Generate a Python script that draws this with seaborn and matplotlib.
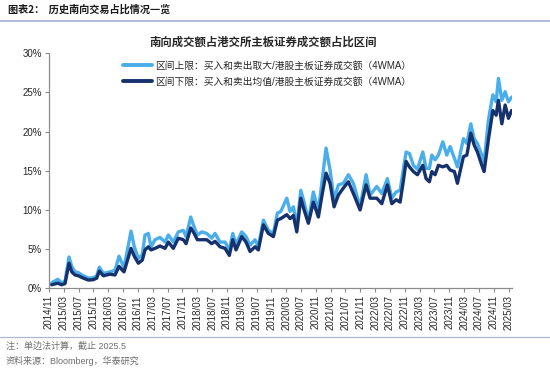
import numpy as np
import pandas as pd
import matplotlib
matplotlib.use("Agg")
import matplotlib.pyplot as plt
from matplotlib.lines import Line2D
import seaborn as sns

# ---------------- data ----------------
tick_labels = ["2014/11", "2015/03", "2015/07", "2015/11", "2016/03", "2016/07",
               "2016/11", "2017/03", "2017/07", "2017/11", "2018/03", "2018/07",
               "2018/11", "2019/03", "2019/07", "2019/11", "2020/03", "2020/07",
               "2020/11", "2021/03", "2021/07", "2021/11", "2022/03", "2022/07",
               "2022/11", "2023/03", "2023/07", "2023/11", "2024/03", "2024/07",
               "2024/11", "2025/03"]

# position along the axis in months after 2014/11
month_pos = [0.73, 2.35, 3.43, 4.32, 5.40, 6.13, 7.02, 7.91, 9.26, 10.61,
             11.96, 12.87, 13.58, 14.66, 16.46, 17.81, 18.89, 19.62, 20.24, 22.13,
             23.02, 24.10, 25.18, 25.91, 26.80, 27.53, 28.61, 29.96, 31.31, 32.20,
             33.55, 34.90, 36.25, 36.98, 38.25, 38.95, 40.03, 41.21, 42.56, 43.91,
             44.80, 46.15, 47.50, 48.66, 49.58, 50.47, 52.01, 53.17, 54.25, 55.60,
             56.49, 57.84, 59.19, 60.54, 61.62, 62.54, 64.16, 65.05, 65.94, 66.86,
             67.94, 68.83, 69.99, 71.34, 72.69, 73.60, 74.76, 75.84, 76.92, 78.08,
             79.43, 80.78, 82.13, 83.94, 85.56, 86.64, 88.45, 89.80, 91.31, 92.50,
             93.66, 94.74, 95.55, 96.36, 97.25, 98.33, 99.41, 100.86, 101.75, 102.64,
             103.29, 104.18, 105.07, 106.26, 107.34, 108.23, 109.39, 110.20, 111.82, 112.74,
             113.82, 114.71, 115.60, 116.79, 117.41, 118.57, 119.76, 120.65, 121.27, 122.19,
             123.08, 123.97, 124.83]

upper = [0.7, 1.15, 0.7, 0.9, 4.0, 2.8, 2.1, 2.0, 1.6, 1.3,
         1.35, 1.6, 2.7, 1.9, 2.1, 2.3, 4.1, 3.3, 2.6, 7.3,
         5.3, 3.8, 4.3, 6.8, 7.0, 5.3, 6.2, 6.5, 5.9, 6.8,
         5.9, 7.2, 7.4, 6.6, 9.1, 8.1, 6.8, 7.2, 7.0, 6.4,
         7.0, 5.9, 5.9, 4.9, 7.0, 5.6, 7.2, 6.6, 5.5, 6.2,
         5.3, 8.7, 7.4, 7.0, 9.6, 9.8, 11.5, 9.8, 10.4, 7.9,
         12.5, 11.0, 8.6, 12.3, 9.9, 13.4, 17.9, 15.1, 11.3, 13.2,
         13.4, 14.5, 13.4, 10.4, 14.5, 11.9, 13.0, 12.1, 14.0, 11.5,
         12.3, 12.5, 15.0, 17.4, 17.2, 15.7, 15.2, 17.4, 15.3, 15.3,
         17.0, 16.4, 17.0, 18.7, 17.0, 18.1, 16.6, 15.5, 19.1, 18.5,
         21.0, 19.1, 18.5, 17.0, 16.1, 21.5, 24.7, 23.8, 26.8, 24.0,
         25.1, 23.8, 24.4]

lower = [0.45, 0.65, 0.45, 0.6, 3.2, 2.1, 1.7, 1.6, 1.3, 1.05,
         1.1, 1.3, 2.2, 1.6, 1.8, 1.7, 2.8, 2.4, 2.1, 5.1,
         4.1, 3.2, 3.6, 4.9, 5.3, 4.9, 5.1, 5.4, 5.1, 5.9,
         5.1, 6.4, 6.2, 5.7, 7.7, 7.2, 6.2, 6.2, 6.2, 5.7,
         6.0, 5.3, 5.1, 4.2, 6.2, 4.9, 6.6, 5.9, 4.7, 5.3,
         4.9, 8.1, 7.0, 6.6, 8.7, 8.9, 9.4, 8.9, 9.3, 7.2,
         11.5, 10.0, 8.3, 11.0, 9.1, 11.7, 14.7, 13.4, 10.4, 11.9,
         12.8, 13.6, 12.1, 10.0, 13.2, 11.5, 11.5, 10.8, 13.2, 10.8,
         11.3, 11.0, 13.5, 16.2, 15.5, 14.9, 14.5, 15.7, 14.0, 13.6,
         14.9, 14.5, 15.7, 15.5, 15.7, 15.1, 14.9, 13.4, 16.8, 17.0,
         19.8, 18.3, 17.4, 15.7, 14.9, 19.0, 22.7, 22.1, 24.0, 21.0,
         23.4, 21.7, 22.7]

series_names = ["区间上限：买入和卖出取大/港股主板证券成交额（4WMA）",
                "区间下限：买入和卖出均值/港股主板证券成交额（4WMA）"]

# ---------------- styling ----------------
sns.set_theme(style="white")
plt.rcParams['font.family'] = ['Liberation Sans', 'Noto Sans CJK SC', 'DejaVu Sans']
plt.rcParams['axes.unicode_minus'] = False

light_blue = "#4AAEEB"
navy = "#16326E"
axis_gray = "#8C8C8C"
text_dark = "#262626"

long_df = pd.concat([
    pd.DataFrame({"pos": month_pos, "val": upper, "series": series_names[0]}),
    pd.DataFrame({"pos": month_pos, "val": lower, "series": series_names[1]}),
], ignore_index=True)

fig = plt.figure(figsize=(5.5, 3.7), dpi=100)
ax = fig.add_axes([49 / 550, 1 - 288.3 / 370, (511.7 - 49) / 550, (288.3 - 53.3) / 370])

sns.lineplot(data=long_df, x="pos", y="val", hue="series",
             palette=[light_blue, navy], linewidth=2.4, sort=False,
             legend=False, ax=ax)

ax.set_xlim(0, 124.85)
ax.set_ylim(0, 30)
ax.set_xlabel("")
ax.set_ylabel("")

ax.set_yticks(np.arange(0, 31, 5))
ax.set_yticklabels([f"{v}%" for v in range(0, 31, 5)], fontsize=7, color=text_dark)
ax.set_xticks(np.arange(0, 4 * len(tick_labels), 4))
ax.set_xticklabels(tick_labels, rotation=90, fontsize=7, color=text_dark)

for s in ["top", "right"]:
    ax.spines[s].set_visible(False)
for s in ["left", "bottom"]:
    ax.spines[s].set_color(axis_gray)
    ax.spines[s].set_linewidth(0.9)
ax.tick_params(axis="both", which="major", direction="out", length=3,
               width=0.8, color=axis_gray, pad=2, left=True, bottom=True)
ax.grid(False)

# legend
handles = [Line2D([0], [0], color=light_blue, lw=2.8),
           Line2D([0], [0], color=navy, lw=2.8)]
fig.legend(handles, series_names, loc="upper left",
           bbox_to_anchor=(123 / 550, 1 - 60.5 / 370), frameon=False,
           fontsize=7.0, handlelength=3.0, handletextpad=0.25,
           labelspacing=0.62, borderpad=0, borderaxespad=0,
           labelcolor=text_dark)

# chart title
fig.text(263 / 550, 1 - 42.5 / 370, "南向成交额占港交所主板证券成交额占比区间",
         ha="center", va="center", fontsize=8.2, fontweight="bold",
         color=text_dark, family=['Noto Sans CJK SC', 'DejaVu Sans'])

# header
fig.text(8 / 550, 1 - 10 / 370, "图表2：  历史南向交易占比情况一览",
         ha="left", va="center", fontsize=7.3, fontweight="bold",
         color="#1a1a1a", family=['Noto Sans CJK SC', 'DejaVu Sans'])
fig.add_artist(Line2D([0, 1], [1 - 21 / 370] * 2, color="#9FB3CE", lw=1.2,
                      transform=fig.transFigure))

# footer
fig.add_artist(Line2D([0, 1], [1 - 337 / 370] * 2, color="#A9BBD4", lw=0.9,
                      transform=fig.transFigure))
fig.text(6 / 550, 1 - 346 / 370, "注：单边法计算，截止 2025.5",
         ha="left", va="center", fontsize=6.5, color="#6E6E6E")
fig.text(6 / 550, 1 - 361 / 370, "资料来源：Bloomberg，华泰研究",
         ha="left", va="center", fontsize=6.5, color="#6E6E6E")

fig.savefig("out.png", dpi=100)
